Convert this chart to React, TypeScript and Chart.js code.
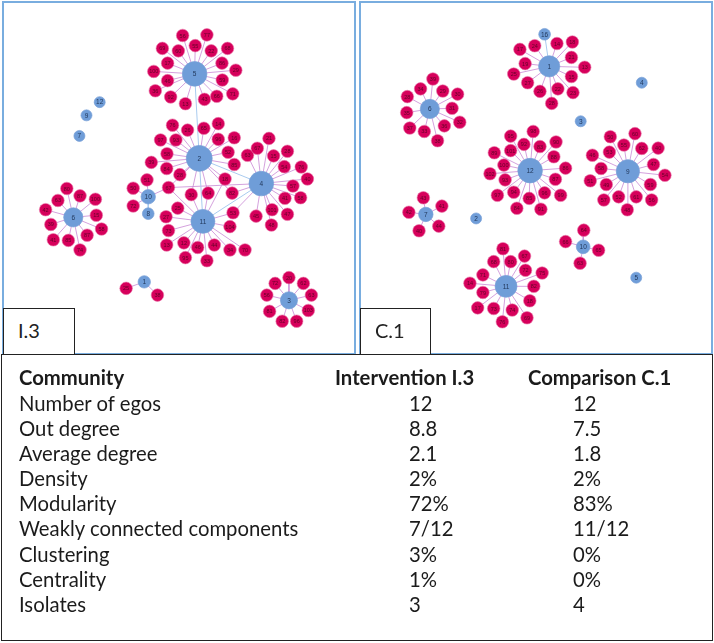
import React, { useEffect, useRef } from "react";
import { Chart, registerables } from "chart.js";

Chart.register(...registerables);

type Alter = [string, number, number, string];

// ---------- Intervention I.3 network (layout units 0..1071) ----------
const I3_EGO_LABELS = ["5", "2", "4", "11", "6", "3", "10", "8", "1", "12", "9", "7"];
const I3_EGO_X = [588, 603, 805, 615, 193, 895, 437, 437, 424, 279, 236, 213];
const I3_EGO_Y = [195, 470, 552, 675, 662, 932, 595, 650, 872, 287, 330, 397];
const I3_EGO_LINKS: [string, string][] = [["5", "2"], ["2", "11"], ["2", "4"], ["11", "4"], ["10", "8"]];
const I3_ALTERS: Alter[] = [
  ["56", 549, 70, "5"], ["77", 628, 68, "5"], ["55", 590, 103, "5"], ["69", 483, 112, "5"], ["60", 535, 120, "5"],
  ["22", 642, 120, "5"], ["68", 695, 112, "5"], ["17", 500, 160, "5"], ["86", 677, 160, "5"], ["29", 722, 183, "5"],
  ["100", 455, 187, "5"], ["46", 500, 217, "5"], ["59", 678, 215, "5"], ["36", 460, 250, "5"], ["92", 510, 270, "5"],
  ["13", 558, 292, "5"], ["43", 620, 278, "5"], ["66", 660, 268, "5"], ["71", 712, 260, "5"],
  ["76", 516, 362, "2"], ["26", 565, 378, "2"], ["65", 618, 372, "2"], ["14", 665, 357, "2"], ["97", 477, 410, "2"],
  ["93", 527, 410, "2"], ["96", 665, 408, "2"], ["16", 717, 403, "2"], ["58", 498, 455, "2"], ["52", 697, 450, "2"],
  ["39", 447, 483, "2"], ["84", 497, 503, "2"], ["85", 717, 490, "2"], ["28", 540, 523, "2"], ["18", 687, 537, "2,11"],
  ["67", 503, 565, "2,10,4,11"], ["30", 577, 588, "11,2"], ["64", 632, 583, "11,2"], ["82", 710, 583, "4,2"],
  ["25", 533, 632, "11"], ["27", 495, 660, "11"], ["53", 713, 647, "11,4"], ["104", 703, 692, "11"], ["73", 503, 705, "11"],
  ["13", 497, 752, "11"], ["12", 553, 745, "11"], ["46", 598, 760, "11"], ["44", 652, 752, "11"], ["34", 703, 768, "11"],
  ["70", 752, 768, "11"], ["95", 558, 793, "11"], ["33", 628, 803, "11"],
  ["63", 760, 460, "4"], ["67", 792, 437, "4"], ["21", 830, 405, "4"], ["15", 845, 462, "4"], ["28", 890, 447, "4"],
  ["54", 880, 497, "4"], ["76", 935, 498, "4"], ["40", 955, 537, "4"], ["57", 908, 560, "4"], ["41", 882, 600, "4"],
  ["58", 933, 598, "4"], ["101", 840, 637, "4"], ["45", 788, 658, "4"], ["47", 890, 652, "4"], ["48", 838, 687, "4"],
  ["51", 433, 540, "10"], ["50", 388, 567, "10"], ["72", 388, 625, "10"],
  ["80", 172, 568, "6"], ["63", 143, 607, "6"], ["87", 215, 592, "6"], ["100", 265, 603, "6"], ["42", 103, 637, "6"],
  ["15", 268, 655, "6"], ["58", 285, 700, "6"], ["39", 120, 685, "6"], ["41", 128, 735, "6"], ["85", 177, 737, "6"],
  ["87", 238, 720, "6"], ["74", 215, 768, "6"],
  ["20", 895, 858, "3"], ["72", 850, 877, "3"], ["62", 942, 877, "3"], ["56", 823, 915, "3"], ["63", 968, 915, "3"],
  ["103", 958, 965, "3"], ["81", 832, 968, "3"], ["82", 873, 1000, "3"], ["96", 920, 1000, "3"],
  ["25", 365, 893, "1"], ["38", 467, 915, "1"],
];

// ---------- Comparison C.1 network (layout units 0..1071) ----------
const C1_EGO_LABELS = ["1", "16", "4", "6", "3", "12", "9", "7", "2", "10", "5", "11"];
const C1_EGO_X = [580, 565, 880, 193, 682, 518, 835, 180, 343, 690, 862, 440];
const C1_EGO_Y = [172, 68, 225, 310, 350, 510, 512, 652, 665, 757, 857, 885];
const C1_EGO_LINKS: [string, string][] = [["1", "16"]];
const C1_ALTERS: Alter[] = [
  ["17", 485, 117, "1"], ["24", 533, 105, "1"], ["14", 605, 98, "1"], ["18", 655, 93, "1"], ["19", 502, 163, "1"],
  ["21", 652, 143, "1"], ["13", 695, 175, "1"], ["25", 465, 197, "1"], ["27", 510, 225, "1"], ["15", 652, 205, "1"],
  ["26", 550, 253, "1"], ["22", 608, 245, "1"], ["23", 657, 257, "1"], ["28", 588, 292, "1"],
  ["39", 203, 213, "6"], ["34", 163, 245, "6"], ["29", 235, 252, "6"], ["30", 283, 262, "6"], ["28", 120, 270, "6"],
  ["31", 265, 308, "6"], ["35", 118, 322, "6"], ["32", 290, 353, "6"], ["37", 128, 372, "6"], ["33", 175, 383, "6"],
  ["36", 240, 365, "6"], ["38", 218, 413, "6"],
  ["98", 528, 383, "12"], ["95", 455, 398, "12"], ["92", 498, 425, "12"], ["83", 550, 432, "12"], ["90", 602, 417, "12"],
  ["89", 402, 452, "12"], ["101", 455, 445, "12"], ["88", 595, 465, "12"], ["86", 633, 502, "12"], ["100", 433, 492, "12"],
  ["102", 388, 520, "12"], ["93", 437, 540, "12"], ["87", 600, 538, "12"], ["97", 412, 590, "12"], ["94", 465, 580, "12"],
  ["85", 515, 600, "12"], ["96", 565, 582, "12"], ["99", 617, 590, "12"], ["84", 475, 632, "12"], ["91", 553, 635, "12"],
  ["50", 778, 400, "9"], ["60", 858, 390, "9"], ["55", 822, 427, "9"], ["40", 933, 437, "9"], ["53", 775, 450, "9"],
  ["62", 880, 438, "9"], ["46", 720, 460, "9"], ["47", 918, 490, "9"], ["58", 748, 503, "9"], ["54", 955, 525, "9"],
  ["51", 713, 543, "9"], ["49", 765, 555, "9"], ["59", 908, 555, "9"], ["57", 757, 605, "9"], ["52", 805, 595, "9"],
  ["61", 862, 595, "9"], ["56", 912, 605, "9"], ["48", 833, 637, "9"],
  ["43", 172, 598, "7"], ["41", 232, 625, "7"], ["42", 125, 645, "7"], ["44", 222, 690, "7"], ["40", 158, 705, "7"],
  ["64", 692, 703, "10"], ["66", 633, 740, "10"], ["65", 740, 768, "10"], ["63", 680, 810, "10"],
  ["81", 430, 763, "11"], ["68", 400, 805, "11"], ["80", 455, 805, "11"], ["67", 500, 787, "11"], ["71", 365, 848, "11"],
  ["72", 503, 833, "11"], ["75", 557, 842, "11"], ["14", 323, 875, "11"], ["82", 530, 885, "11"], ["79", 365, 905, "11"],
  ["18", 517, 932, "11"], ["17", 348, 955, "11"], ["73", 400, 957, "11"], ["74", 460, 962, "11"], ["69", 508, 987, "11"],
  ["76", 428, 1000, "11"],
];

// ---------- Table ----------
const TABLE_HEADERS = ["Community", "Intervention I.3", "Comparison C.1"];
const TABLE_METRICS = [
  "Number of egos", "Out degree", "Average degree", "Density", "Modularity",
  "Weakly connected components", "Clustering", "Centrality", "Isolates",
];
const TABLE_I3 = ["12", "8.8", "2.1", "2%", "72%", "7/12", "3%", "1%", "3"];
const TABLE_C1 = ["12", "7.5", "1.8", "2%", "83%", "11/12", "0%", "0%", "4"];

const LAYOUT_MAX = 1071;
const EGO_COLOR = "#6f9dd8";
const ALTER_COLOR = "#d6005b";

const nodeLabelPlugin = {
  id: "nodeLabels",
  afterDatasetsDraw(chart: any) {
    const ctx = chart.ctx;
    chart.data.datasets.forEach((ds: any, di: number) => {
      const labels = ds.nodeLabels;
      if (!labels) return;
      const meta = chart.getDatasetMeta(di);
      ctx.save();
      ctx.font = ds.labelFont;
      ctx.fillStyle = ds.labelColor;
      ctx.textAlign = "center";
      ctx.textBaseline = "middle";
      meta.data.forEach((el: any, i: number) => ctx.fillText(labels[i], el.x, el.y + 0.5));
      ctx.restore();
    });
  },
};

function Network(props: {
  egoLabels: string[]; egoX: number[]; egoY: number[];
  egoLinks: [string, string][]; alters: Alter[];
}) {
  const ref = useRef<HTMLCanvasElement>(null);
  useEffect(() => {
    const { egoLabels, egoX, egoY, egoLinks, alters } = props;
    const idx = new Map(egoLabels.map((l, i) => [l, i] as [string, number]));
    const deg = egoLabels.map(() => 0);
    const alterEdges: any[] = [];
    alters.forEach((a) => {
      a[3].split(",").forEach((e) => {
        const k = idx.get(e)!;
        deg[k]++;
        alterEdges.push({ x: a[1], y: a[2] }, { x: egoX[k], y: egoY[k] }, { x: NaN, y: NaN });
      });
    });
    const egoEdges: any[] = [];
    egoLinks.forEach(([a, b]) => {
      const i = idx.get(a)!, j = idx.get(b)!;
      deg[i]++; deg[j]++;
      egoEdges.push({ x: egoX[i], y: egoY[i] }, { x: egoX[j], y: egoY[j] }, { x: NaN, y: NaN });
    });
    const chart = new Chart(ref.current!, {
      type: "bubble",
      data: {
        datasets: [
          {
            type: "bubble",
            data: egoLabels.map((_, i) => ({ x: egoX[i], y: egoY[i], r: 5.5 + 0.34 * deg[i] })),
            backgroundColor: EGO_COLOR,
            borderColor: "rgba(120,160,215,0.7)",
            borderWidth: 1,
            order: 0,
            nodeLabels: egoLabels,
            labelFont: "6.5px 'Liberation Sans'",
            labelColor: "#1f3558",
          } as any,
          {
            type: "bubble",
            data: alters.map((a) => ({ x: a[1], y: a[2], r: 6.3 })),
            backgroundColor: ALTER_COLOR,
            borderColor: "rgba(235,120,170,0.6)",
            borderWidth: 1,
            order: 1,
            nodeLabels: alters.map((a) => a[0]),
            labelFont: "5.5px 'Liberation Sans'",
            labelColor: "rgba(80,0,30,0.85)",
          } as any,
          {
            type: "line",
            data: egoEdges,
            borderColor: "#a9cbef",
            borderWidth: 1,
            pointRadius: 0,
            spanGaps: false,
            tension: 0,
            order: 2,
          } as any,
          {
            type: "line",
            data: alterEdges,
            borderColor: "rgba(205,145,215,0.85)",
            borderWidth: 1,
            pointRadius: 0,
            spanGaps: false,
            tension: 0,
            order: 3,
          } as any,
        ],
      },
      options: {
        animation: false,
        responsive: false,
        events: [],
        layout: { padding: 0 },
        plugins: { legend: { display: false }, tooltip: { enabled: false } },
        scales: {
          x: { type: "linear", min: 0, max: LAYOUT_MAX, display: false },
          y: { type: "linear", min: 0, max: LAYOUT_MAX, reverse: true, display: false },
        },
      },
      plugins: [nodeLabelPlugin],
    });
    return () => chart.destroy();
  }, []);
  return <canvas ref={ref} width={357} height={357} style={{ display: "block" }} />;
}

const FONT = "Lato, 'Open Sans', sans-serif";
const ROW_Y = [377, 403, 428, 453, 478, 503, 528, 554, 579, 604];

export default function App() {
  const abs = (l: number, t: number, extra: any = {}) => ({ position: "absolute" as const, left: l, top: t, ...extra });
  const cell = (text: string, x: number, cy: number, bold = false, key?: string) => (
    <div key={key} style={abs(x, cy - 13, { height: 26, lineHeight: "26px", fontFamily: FONT, fontSize: 20.3, fontWeight: bold ? 700 : 400, color: "#1b1b1b", whiteSpace: "nowrap" })}>{text}</div>
  );
  return (
    <div style={{ position: "absolute", left: 0, top: 0, width: 714, height: 643, background: "#fff", overflow: "hidden" }}>
      <div style={abs(0, 0)}>
        <Network egoLabels={I3_EGO_LABELS} egoX={I3_EGO_X} egoY={I3_EGO_Y} egoLinks={I3_EGO_LINKS} alters={I3_ALTERS} />
      </div>
      <div style={abs(357, 0)}>
        <Network egoLabels={C1_EGO_LABELS} egoX={C1_EGO_X} egoY={C1_EGO_Y} egoLinks={C1_EGO_LINKS} alters={C1_ALTERS} />
      </div>
      <div style={abs(2, 1, { width: 354, height: 354, boxSizing: "border-box", border: "2px solid #79addf" })} />
      <div style={abs(359, 1, { width: 354, height: 354, boxSizing: "border-box", border: "2px solid #79addf" })} />
      <div style={abs(3, 308, { width: 72, height: 47, boxSizing: "border-box", border: "1.5px solid #222", background: "#fff" })}>
        <div style={{ position: "absolute", left: 14, top: 9, fontFamily: FONT, fontSize: 20, color: "#222" }}>I.3</div>
      </div>
      <div style={abs(360, 308, { width: 71, height: 47, boxSizing: "border-box", border: "1.5px solid #222", background: "#fff" })}>
        <div style={{ position: "absolute", left: 14, top: 9, fontFamily: FONT, fontSize: 20, color: "#222" }}>C.1</div>
      </div>
      <div style={abs(1, 354, { width: 712, height: 287, boxSizing: "border-box", border: "1.5px solid #222" })} />
      {cell(TABLE_HEADERS[0], 19, ROW_Y[0], true, "h0")}
      {cell(TABLE_HEADERS[1], 335, ROW_Y[0], true, "h1")}
      {cell(TABLE_HEADERS[2], 528, ROW_Y[0], true, "h2")}
      {TABLE_METRICS.map((m, i) => cell(m, 19, ROW_Y[i + 1], false, "m" + i))}
      {TABLE_I3.map((v, i) => cell(v, 409, ROW_Y[i + 1], false, "a" + i))}
      {TABLE_C1.map((v, i) => cell(v, 573, ROW_Y[i + 1], false, "b" + i))}
    </div>
  );
}
